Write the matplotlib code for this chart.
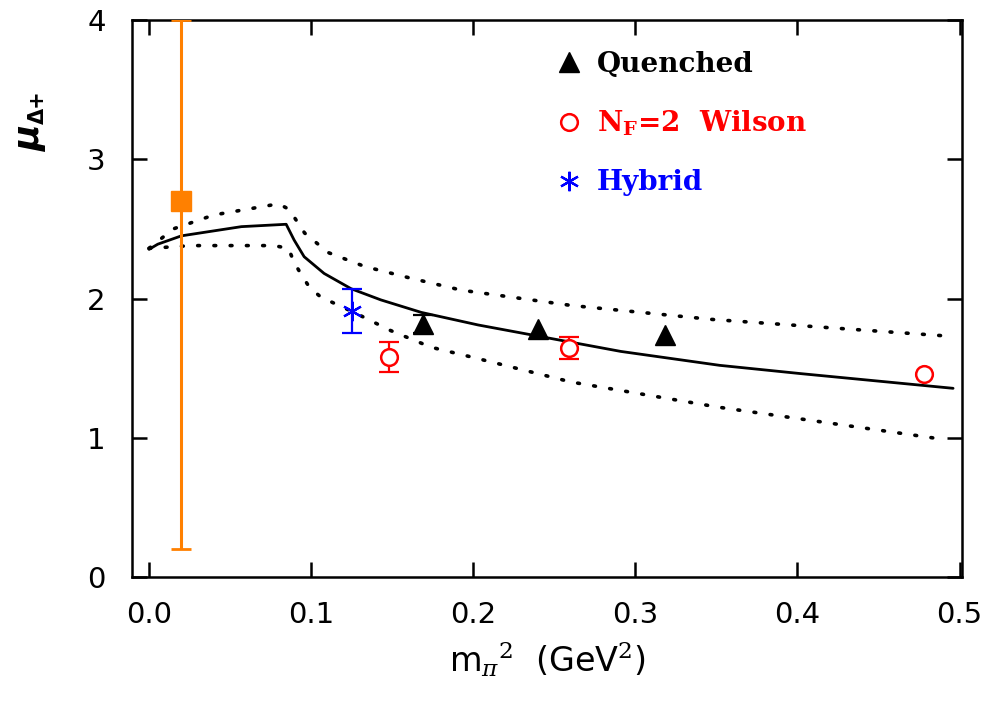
import matplotlib
matplotlib.use("Agg")
import matplotlib.pyplot as plt

# ---- data ----
exp_x = [0.02]
exp_y = [2.7]
exp_err_lo = [2.5]
exp_err_hi = [1.3]

quenched_x = [0.169, 0.240, 0.318]
quenched_y = [1.82, 1.78, 1.74]
quenched_err = [0.065, 0.0, 0.0]

wilson_x = [0.148, 0.259, 0.478]
wilson_y = [1.58, 1.645, 1.46]
wilson_err = [0.11, 0.08, 0.0]

hybrid_x = [0.125]
hybrid_y = [1.91]
hybrid_err = [0.16]

central_x = [0.0, 0.0054, 0.02, 0.057, 0.0846, 0.0895, 0.0957, 0.108, 0.1247, 0.143,
             0.168, 0.203, 0.240, 0.291, 0.352, 0.4025, 0.496]
central_y = [2.353, 2.39, 2.45, 2.516, 2.533, 2.42, 2.30, 2.18, 2.07, 1.99,
             1.90, 1.81, 1.73, 1.62, 1.52, 1.46, 1.355]

upper_x = [0.0, 0.015, 0.04, 0.080, 0.0864, 0.096, 0.1105, 0.133, 0.160, 0.1926,
           0.2605, 0.347, 0.493]
upper_y = [2.36, 2.50, 2.60, 2.68, 2.64, 2.47, 2.33, 2.23, 2.15, 2.06,
           1.95, 1.85, 1.73]

lower_x = [0.0, 0.026, 0.077, 0.086, 0.0895, 0.094, 0.099, 0.106, 0.1265, 0.149,
           0.174, 0.2006, 0.2605, 0.351, 0.489]
lower_y = [2.36, 2.38, 2.38, 2.36, 2.26, 2.17, 2.08, 2.01, 1.90, 1.77,
           1.65, 1.575, 1.40, 1.22, 0.99]

x_ticks = [0.0, 0.1, 0.2, 0.3, 0.4, 0.5]
x_ticklabels = ["0.0", "0.1", "0.2", "0.3", "0.4", "0.5"]
y_ticks = [0, 1, 2, 3, 4]
y_ticklabels = ["0", "1", "2", "3", "4"]

plt.rcParams['mathtext.fontset'] = 'dejavuserif'

fig = plt.figure(figsize=(9.83, 7.03), dpi=100)
ax = fig.add_axes([132/983, 1-577/703, (962-132)/983, (577-20)/703])

ORANGE = '#FF8000'
RED = '#FF0000'
BLUE = '#0000FF'


def with_err(xs, ys, es):
    sel = [(x, y, e) for x, y, e in zip(xs, ys, es) if e > 0]
    return [s[0] for s in sel], [s[1] for s in sel], [s[2] for s in sel]


# curves
ax.plot(central_x, central_y, color='black', lw=2.0, solid_capstyle='round',
        solid_joinstyle='round')
dot = (0, (0.5, 4.0))
ax.plot(upper_x, upper_y, color='black', lw=2.6, linestyle=dot, dash_capstyle='round')
ax.plot(lower_x, lower_y, color='black', lw=2.6, linestyle=dot, dash_capstyle='round')

# experiment
ax.errorbar(exp_x, exp_y, yerr=[exp_err_lo, exp_err_hi], fmt='s', color=ORANGE,
            ms=14, elinewidth=2.2, capsize=7.5, capthick=2.0, zorder=3)

# quenched
qx, qy, qe = with_err(quenched_x, quenched_y, quenched_err)
ax.errorbar(qx, qy, yerr=qe, fmt='none', ecolor='black',
            elinewidth=1.6, capsize=7, capthick=1.6, zorder=4)
ax.plot(quenched_x, quenched_y, '^', color='black', ms=14, ls='none', zorder=5,
        label='Quenched')

# wilson
wx, wy, we = with_err(wilson_x, wilson_y, wilson_err)
ax.errorbar(wx, wy, yerr=we, fmt='none', ecolor=RED,
            elinewidth=1.6, capsize=7, capthick=1.6, zorder=4)
ax.plot(wilson_x, wilson_y, 'o', mfc='white', mec=RED, mew=1.8, ms=12, ls='none', zorder=5,
        label=r'$\mathbf{N_F}$=2  Wilson')

# hybrid
ax.errorbar(hybrid_x, hybrid_y, yerr=hybrid_err, fmt='none', ecolor=BLUE,
            elinewidth=1.6, capsize=7, capthick=1.6, zorder=4)
ax.plot(hybrid_x, hybrid_y, color=BLUE, ms=14, ls='none', zorder=5,
        marker=(6, 2, 0), mew=1.6, label='Hybrid')

ax.set_xlim(-0.0105, 0.5015)
ax.set_ylim(0, 4)
ax.set_xticks(x_ticks)
ax.set_xticklabels(x_ticklabels)
ax.set_yticks(y_ticks)
ax.set_yticklabels(y_ticklabels)
ax.tick_params(direction='in', length=11, width=1.8, labelsize=21,
               top=True, right=True)
ax.tick_params(axis='x', pad=17)
ax.tick_params(axis='y', pad=19)
for s in ax.spines.values():
    s.set_linewidth(1.8)

ax.set_xlabel(r'm$_{\pi}$$^{2}$  (GeV$^{2}$)', fontsize=24, family='DejaVu Sans', labelpad=8)

# y label: bold italic mu with subscript Delta+
fig.text(30/983, 1-138/703, 'μ', rotation=90, fontsize=26, fontweight='bold',
         fontstyle='italic', family='DejaVu Sans', ha='center', va='center')
fig.text(38/983, 1-107/703, 'Δ+', rotation=90, fontsize=15, fontweight='bold',
         family='DejaVu Sans', ha='center', va='center')

leg = ax.legend(loc='upper left', bbox_to_anchor=(0.4995, 0.965), frameon=False,
                prop={'family': 'DejaVu Serif', 'weight': 'bold', 'size': 20},
                handlelength=0.8, handletextpad=0.6, labelspacing=1.12,
                labelcolor=['black', RED, BLUE], borderaxespad=0)

fig.savefig('out.png', dpi=100)
